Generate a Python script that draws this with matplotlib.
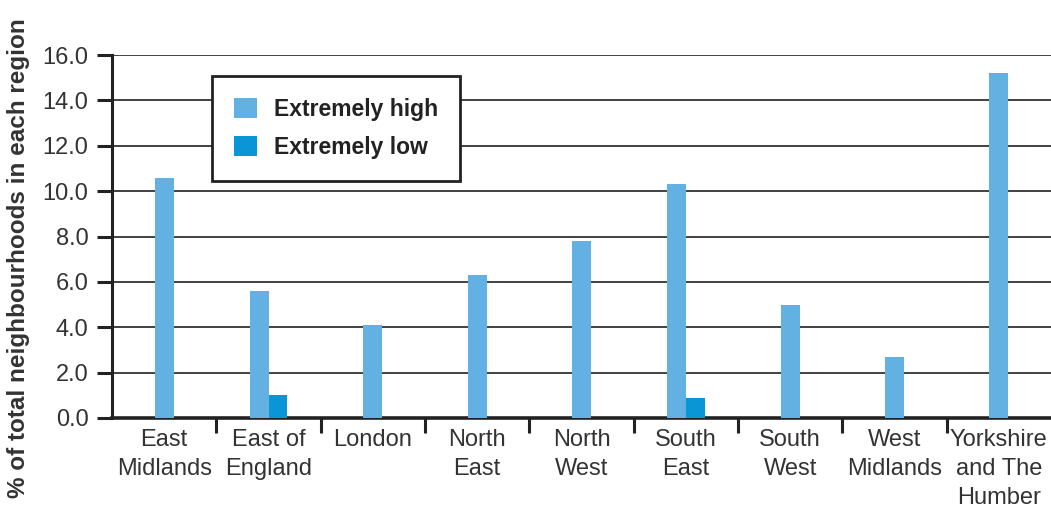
import matplotlib
matplotlib.use("Agg")
import matplotlib.pyplot as plt
import numpy as np

categories = ["East\nMidlands", "East of\nEngland", "London", "North\nEast", "North\nWest",
              "South\nEast", "South\nWest", "West\nMidlands", "Yorkshire\nand The\nHumber"]
extremely_high = [10.6, 5.6, 4.1, 6.3, 7.8, 10.3, 5.0, 2.7, 15.2]
extremely_low = [0.0, 1.0, 0.0, 0.0, 0.0, 0.9, 0.0, 0.0, 0.0]
y_ticks = [0, 2, 4, 6, 8, 10, 12, 14, 16]

LIGHT = "#63B0E2"
DARK = "#0A96D6"
TXT = "#333333"

plt.rcParams["font.family"] = ["Liberation Sans", "DejaVu Sans"]

fig = plt.figure(figsize=(10.51, 5.09), dpi=100)
ax = fig.add_axes([112 / 1051, 1 - 418 / 509, 1 - 112 / 1051, 363 / 509])

x = np.arange(len(categories))
w = 0.18
has_low = np.array(extremely_low) > 0
hi_x = np.where(has_low, x - w / 2, x)
ax.bar(hi_x, extremely_high, width=w, color=LIGHT, zorder=3, label="Extremely high")
low_vals = np.array(extremely_low)
ax.bar((x + w / 2)[has_low], low_vals[has_low], width=w, color=DARK, zorder=3, label="Extremely low")

ax.set_xlim(-0.5, len(categories) - 0.5)
ax.set_ylim(0, 16)
ax.set_yticks(y_ticks)
ax.set_yticklabels([f"{v:.1f}" for v in y_ticks], fontsize=17, color=TXT)
ax.yaxis.grid(True, color="#333333", linewidth=1.3, zorder=0)
ax.set_axisbelow(True)

ax.set_xticks(x)
ax.set_xticklabels(categories, fontsize=17, color=TXT, linespacing=1.4)
ax.tick_params(axis="x", length=0, pad=8)
ax.set_xticks(x[:-1] + 0.5, minor=True)
ax.tick_params(axis="x", which="minor", length=11, width=2.2, color="#222222", direction="out")
ax.tick_params(axis="y", length=11, width=2.2, color="#222222", direction="out", pad=6)

for s in ["top", "right"]:
    ax.spines[s].set_visible(False)
ax.spines["left"].set_linewidth(2.2)
ax.spines["left"].set_color("#222222")
ax.spines["bottom"].set_linewidth(2.6)
ax.spines["bottom"].set_color("#222222")

ax.set_ylabel("% of total neighbourhoods in each region", fontsize=17.5, fontweight="bold",
              color=TXT)
ax.yaxis.set_label_coords(-0.087, 0.44)

leg = ax.legend(loc="upper left", bbox_to_anchor=(100 / 939, (418 - 76) / 363),
                borderaxespad=0, handlelength=1.0, handleheight=1.0,
                handletextpad=0.75, labelspacing=0.65, borderpad=0.95, fancybox=False,
                framealpha=1, edgecolor="#222222", prop={"weight": "bold", "size": 16.5})
leg.get_frame().set_linewidth(2.0)
for t in leg.get_texts():
    t.set_color("#222222")

fig.savefig("out.png", dpi=100)
